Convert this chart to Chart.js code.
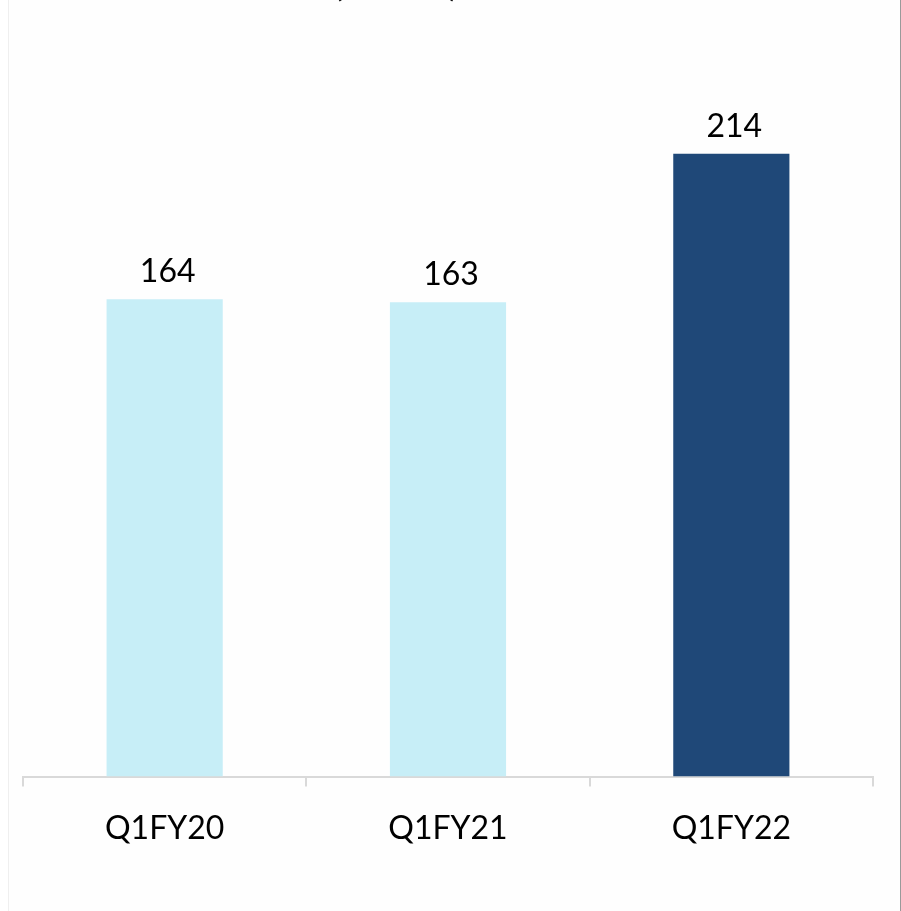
<!DOCTYPE html>
<html>
<head>
<meta charset="utf-8">
<script src="https://cdn.jsdelivr.net/npm/chart.js@4"></script>
<style>
    html, body { margin: 0; padding: 0; background: #ffffff; }
    #wrap { position: relative; width: 901px; height: 911px; }
    #frame {
        position: absolute; left: 8px; top: 0; width: 891px; height: 911px;
        border-left: 1px solid #efefef; border-right: 1px solid #9a9a9a;
        background: #fefefe;
    }
    canvas { position: absolute; left: 0; top: 0; }
</style>
</head>
<body>
<div id="wrap">
    <div id="frame"></div>
    <canvas id="quarterChart" width="901" height="911"></canvas>
</div>
<script>
const quarters = ['Q1FY20', 'Q1FY21', 'Q1FY22'];
const values = [164, 163, 214];
const barColors = ['#c7eef7', '#c7eef7', '#1f4878'];
const titleText = '(₹ crore)';

const labelFont = '32px Lato, "Open Sans", sans-serif';

// value on top of each bar
const valueLabels = {
    id: 'valueLabels',
    afterDatasetsDraw(chart) {
        const ctx = chart.ctx;
        const meta = chart.getDatasetMeta(0);
        ctx.save();
        ctx.font = labelFont;
        ctx.fillStyle = '#000000';
        ctx.textAlign = 'center';
        ctx.textBaseline = 'alphabetic';
        meta.data.forEach((bar, i) => {
            ctx.fillText(String(values[i]), bar.x + 3, bar.y - 17);
        });
        ctx.restore();
    }
};

// title sits mostly above the visible area
const topTitle = {
    id: 'topTitle',
    afterDraw(chart) {
        const ctx = chart.ctx;
        ctx.save();
        ctx.font = 'bold 34px Lato, "Open Sans", sans-serif';
        ctx.fillStyle = '#000000';
        ctx.textAlign = 'center';
        ctx.textBaseline = 'alphabetic';
        ctx.fillText(titleText, 396, -4);
        ctx.restore();
    }
};

new Chart(document.getElementById('quarterChart'), {
    type: 'bar',
    data: {
        labels: quarters,
        datasets: [{
            data: values,
            backgroundColor: barColors,
            borderWidth: 0,
            categoryPercentage: 0.82,
            barPercentage: 0.5
        }]
    },
    options: {
        responsive: false,
        animation: false,
        layout: {
            padding: { left: 23, right: 28, top: 49, bottom: 40 }
        },
        plugins: {
            legend: { display: false },
            tooltip: { enabled: false },
            title: { display: false }
        },
        scales: {
            x: {
                offset: true,
                grid: {
                    offset: true,
                    drawOnChartArea: false,
                    drawTicks: true,
                    tickLength: 10,
                    color: '#d9d9d9',
                    lineWidth: 2
                },
                border: { display: true, color: '#d9d9d9', width: 2 },
                ticks: {
                    color: '#000000',
                    padding: 23,
                    font: { family: 'Lato, "Open Sans", sans-serif', size: 32 }
                }
            },
            y: {
                display: false,
                min: 0,
                max: 250
            }
        }
    },
    plugins: [valueLabels, topTitle]
});
</script>
</body>
</html>
